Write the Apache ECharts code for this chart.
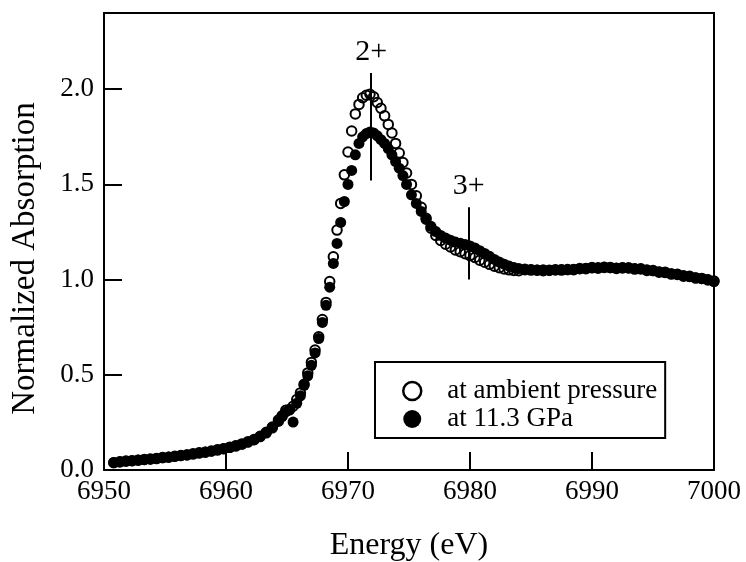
<!DOCTYPE html>
<html><head><meta charset="utf-8">
<script src="https://cdn.jsdelivr.net/npm/echarts@6/dist/echarts.min.js"></script>
<style>html,body{margin:0;padding:0;background:#fff}#c{width:746px;height:562px}</style>
</head><body><div id="c"></div>
<script>
// Photon energy (eV), shared by both measurements
const energy = [
  6950.8, 6951.3, 6951.8, 6952.3, 6952.8, 6953.3, 6953.8, 6954.3, 6954.8, 6955.3,
  6955.8, 6956.3, 6956.8, 6957.3, 6957.8, 6958.3, 6958.8, 6959.3, 6959.8, 6960.3,
  6960.8, 6961.3, 6961.8, 6962.3, 6962.8, 6963.3, 6963.8,
  6964.3, 6964.6, 6964.9, 6965.2, 6965.5, 6965.8, 6966.1, 6966.4, 6966.7, 6967.0,
  6967.3, 6967.6, 6967.9, 6968.2, 6968.5, 6968.8, 6969.1, 6969.4, 6969.7, 6970.0,
  6970.3, 6970.6, 6970.9, 6971.2, 6971.5, 6971.8, 6972.1, 6972.4, 6972.7, 6973.0,
  6973.3, 6973.6, 6973.9, 6974.2, 6974.5, 6974.8,
  6975.2, 6975.6, 6976.0, 6976.4, 6976.8, 6977.2, 6977.6, 6978.0, 6978.4, 6978.8,
  6979.2, 6979.6, 6980.0, 6980.4, 6980.8, 6981.2, 6981.6, 6982.0, 6982.4, 6982.8,
  6983.2, 6983.6, 6984.0,
  6984.5, 6985.0, 6985.5, 6986.0, 6986.5, 6987.0, 6987.5, 6988.0, 6988.5, 6989.0,
  6989.5, 6990.0, 6990.5, 6991.0, 6991.5, 6992.0, 6992.5, 6993.0, 6993.5, 6994.0,
  6994.5, 6995.0, 6995.5, 6996.0, 6996.5, 6997.0, 6997.5, 6998.0, 6998.5, 6999.0,
  6999.5, 7000.0
];
// Normalized absorption at ambient pressure (open circles)
const ambient = [
  0.038, 0.042, 0.047, 0.049, 0.051, 0.055, 0.058, 0.060, 0.065, 0.067,
  0.072, 0.076, 0.079, 0.085, 0.090, 0.093, 0.100, 0.106, 0.112, 0.119,
  0.127, 0.137, 0.148, 0.160, 0.177, 0.198, 0.226,
  0.262, 0.285, 0.314, 0.318, 0.335, 0.370, 0.405, 0.450, 0.510, 0.565,
  0.630, 0.700, 0.790, 0.880, 0.990, 1.120, 1.260, 1.400, 1.550, 1.670,
  1.780, 1.870, 1.920, 1.955, 1.968, 1.973, 1.960, 1.930, 1.900, 1.860,
  1.815, 1.770, 1.715, 1.665, 1.615, 1.560,
  1.500, 1.440, 1.380, 1.322, 1.270, 1.232, 1.205, 1.186, 1.171, 1.156,
  1.146, 1.136, 1.126, 1.116, 1.102, 1.091, 1.080, 1.070, 1.062, 1.056,
  1.051, 1.048, 1.047,
  1.052, 1.050, 1.049, 1.047, 1.049, 1.052, 1.050, 1.053, 1.052, 1.058,
  1.057, 1.063, 1.060, 1.064, 1.064, 1.058, 1.061, 1.062, 1.055, 1.057,
  1.048, 1.048, 1.039, 1.038, 1.029, 1.028, 1.018, 1.017, 1.008, 1.006,
  0.998, 0.992
];
// Normalized absorption at 11.3 GPa (filled circles)
const pressure = [
  0.040, 0.044, 0.046, 0.048, 0.052, 0.054, 0.057, 0.061, 0.064, 0.068,
  0.071, 0.075, 0.080, 0.084, 0.089, 0.094, 0.099, 0.105, 0.111, 0.118,
  0.126, 0.135, 0.146, 0.158, 0.174, 0.194, 0.220,
  0.255, 0.280, 0.305, 0.315, 0.252, 0.350, 0.390, 0.445, 0.495, 0.550,
  0.615, 0.690, 0.775, 0.865, 0.960, 1.085, 1.190, 1.300, 1.410, 1.500,
  1.573, 1.655, 1.715, 1.750, 1.767, 1.775, 1.770, 1.755, 1.735, 1.715,
  1.688, 1.655, 1.620, 1.585, 1.546, 1.500,
  1.445, 1.400, 1.358, 1.316, 1.280, 1.252, 1.232, 1.218, 1.207, 1.197,
  1.191, 1.184, 1.177, 1.166, 1.152, 1.137, 1.122, 1.106, 1.092, 1.081,
  1.071, 1.063, 1.058,
  1.055, 1.053, 1.050, 1.051, 1.048, 1.050, 1.053, 1.051, 1.054, 1.056,
  1.059, 1.061, 1.063, 1.066, 1.062, 1.061, 1.063, 1.060, 1.058, 1.055,
  1.051, 1.046, 1.041, 1.036, 1.031, 1.026, 1.021, 1.015, 1.010, 1.005,
  1.000, 0.990
];
const seriesNames = ['at ambient pressure', 'at 11.3 GPa'];
// Valence markers
const peakLabels = ['2+', '3+'];
const peakEnergy = [6971.9, 6979.9];
const peakLow = [1.52, 1.0];
const peakHigh = [2.085, 1.38];

const FONT = '"Liberation Serif", "Times New Roman", serif';
const chart = echarts.init(document.getElementById('c'), null, {renderer: 'canvas'});

const valenceMarks = {
  type: 'scatter', silent: true, data: [], z: 5,
  markLine: {
    silent: true, animation: false, symbol: ['none', 'none'],
    lineStyle: {color: '#000', width: 2, type: 'solid', opacity: 1},
    label: {show: true, position: 'end', distance: 6, fontFamily: FONT, fontSize: 30,
      color: '#000', opacity: 1, textBorderWidth: 0, formatter: p => p.name},
    emphasis: {disabled: true},
    data: peakLabels.map((lab, i) => [
      {name: lab, coord: [peakEnergy[i], peakLow[i]]},
      {coord: [peakEnergy[i], peakHigh[i]]}
    ])
  }
};

const frameAxis = {
  show: true,
  axisLine: {show: true, onZero: false, lineStyle: {color: '#000', width: 2}},
  axisTick: {show: false}, axisLabel: {show: false}, splitLine: {show: false}
};

chart.setOption({
  animation: false,
  backgroundColor: '#fff',
  grid: {left: 104, right: 32, top: 13, bottom: 92, show: false, containLabel: false, outerBoundsMode: 'none'},
  xAxis: [{
    type: 'value', min: 6950, max: 7000, interval: 10, position: 'bottom',
    name: 'Energy (eV)', nameLocation: 'middle', nameGap: 60,
    nameTextStyle: {fontFamily: FONT, fontSize: 32, color: '#000'},
    axisLine: {show: true, onZero: false, lineStyle: {color: '#000', width: 2}},
    axisTick: {show: true, inside: true, length: 18, lineStyle: {color: '#000', width: 2}},
    axisLabel: {fontFamily: FONT, fontSize: 27, color: '#000', margin: 8,
      formatter: v => String(v)},
    splitLine: {show: false}
  }, Object.assign({type: 'value', min: 6950, max: 7000, position: 'top'}, frameAxis)],
  yAxis: [{
    type: 'value', min: 0, max: 2.4, interval: 0.5, position: 'left',
    name: 'Normalized Absorption', nameLocation: 'middle', nameGap: 62,
    nameTextStyle: {fontFamily: FONT, fontSize: 33, color: '#000', padding: [0, 34, 0, 0]},
    axisLine: {show: true, onZero: false, lineStyle: {color: '#000', width: 2}},
    axisTick: {show: true, inside: true, length: 18, lineStyle: {color: '#000', width: 2}},
    axisLabel: {fontFamily: FONT, fontSize: 27, color: '#000', margin: 10, showMaxLabel: false,
      formatter: v => v.toFixed(1)},
    splitLine: {show: false}
  }, Object.assign({type: 'value', min: 0, max: 2.4, position: 'right'}, frameAxis)],
  legend: {
    orient: 'vertical', left: 375, top: 362,
    padding: [15, 8, 5, 27], itemGap: 0,
    borderColor: '#000', borderWidth: 2, backgroundColor: '#fff',
    itemWidth: 18, itemHeight: 18, icon: 'circle',
    textStyle: {fontFamily: FONT, fontSize: 27, lineHeight: 28, color: '#000', padding: [0, 0, 0, 21]},
    data: [
      {name: seriesNames[0], itemStyle: {color: 'rgba(0,0,0,0)', borderColor: '#000', borderWidth: 2.5}},
      {name: seriesNames[1], itemStyle: {color: '#000', borderWidth: 0}}
    ]
  },
  series: [
    {
      name: seriesNames[1], type: 'scatter', symbol: 'circle', symbolSize: 11, z: 2,
      itemStyle: {color: '#000', opacity: 1},
      data: energy.map((e, i) => [e, pressure[i]])
    },
    {
      name: seriesNames[0], type: 'scatter', symbol: 'circle', symbolSize: 9.5, z: 3,
      itemStyle: {color: 'rgba(0,0,0,0)', borderColor: '#000', borderWidth: 2, opacity: 1},
      data: energy.map((e, i) => [e, ambient[i]])
    },
    valenceMarks
  ]
});
</script>
</body></html>
